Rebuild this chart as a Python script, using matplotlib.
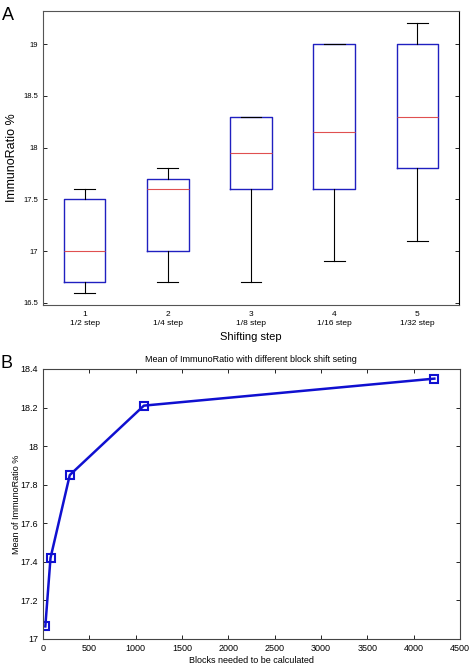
import matplotlib
matplotlib.use("Agg")
import matplotlib.pyplot as plt

# panel A: box statistics
steps = ["1\n1/2 step", "2\n1/4 step", "3\n1/8 step", "4\n1/16 step", "5\n1/32 step"]
whislo = [16.6, 16.7, 16.7, 16.9, 17.1]
q1 = [16.7, 17.0, 17.6, 17.6, 17.8]
med = [17.0, 17.6, 17.95, 18.15, 18.3]
q3 = [17.5, 17.7, 18.3, 19.0, 19.0]
whishi = [17.6, 17.8, 18.3, 19.0, 19.2]

# panel B: mean ImmunoRatio vs blocks
blocks = [25, 81, 289, 1089, 4225]
mean_ratio = [17.065, 17.42, 17.85, 18.21, 18.35]

plt.rcParams['font.family'] = ['Liberation Sans', 'DejaVu Sans']

fig = plt.figure(figsize=(4.71, 6.64), dpi=100)

# ---- A ----
ax1 = fig.add_axes([0.0913, 0.5407, 0.883, 0.4428])
stats = []
for i in range(len(steps)):
    stats.append(dict(whislo=whislo[i], q1=q1[i], med=med[i], q3=q3[i],
                      whishi=whishi[i], fliers=[]))
ax1.bxp(stats, positions=range(1, 6), widths=0.5, showfliers=False,
        boxprops=dict(color="#2020c0", linewidth=1.0),
        medianprops=dict(color="#e05050", linewidth=0.8),
        whiskerprops=dict(color="black", linewidth=0.8),
        capprops=dict(color="black", linewidth=0.8),
        capwidths=0.25)
ax1.set_xlim(0.5, 5.5)
ax1.set_ylim(16.48, 19.32)
ax1.set_yticks([16.5, 17, 17.5, 18, 18.5, 19])
ax1.set_yticklabels(["16.5", "17", "17.5", "18", "18.5", "19"])
ax1.set_xticks(range(1, 6))
ax1.set_xticklabels(steps, fontsize=6, linespacing=1.4)
ax1.tick_params(axis='y', direction='in', right=True, labelsize=5.5, length=3, width=0.6)
ax1.tick_params(axis='x', length=0, pad=4)
ax1.set_ylabel("ImmunoRatio %", fontsize=9, labelpad=4)
ax1.set_xlabel("Shifting step", fontsize=8, labelpad=4)
for s in ax1.spines.values():
    s.set_color("#555555")
    s.set_linewidth(0.8)
ax1.spines['right'].set_color("black")
fig.text(0.005, 0.99, "A", fontsize=13, va="top", ha="left")

# ---- B ----
ax2 = fig.add_axes([0.0913, 0.0377, 0.885, 0.4066])
ax2.plot(blocks, mean_ratio, color="#1010d0", linewidth=1.8, marker="s",
         markersize=6, markerfacecolor="none", markeredgewidth=1.5)
ax2.set_xlim(0, 4500)
ax2.set_ylim(17, 18.4)
ax2.set_xticks(range(0, 4501, 500))
ax2.set_yticks([17, 17.2, 17.4, 17.6, 17.8, 18, 18.2, 18.4])
ax2.set_yticklabels(["17", "17.2", "17.4", "17.6", "17.8", "18", "18.2", "18.4"])
ax2.tick_params(direction='in', top=True, right=True, labelsize=6.5, length=3, width=0.6)
ax2.set_title("Mean of ImmunoRatio with different block shift seting", fontsize=6.5, pad=5)
ax2.set_xlabel("Blocks needed to be calculated", fontsize=6.5, labelpad=2)
ax2.set_ylabel("Mean of ImmunoRatio %", fontsize=6.5, labelpad=0)
for s in ax2.spines.values():
    s.set_color("#444444")
    s.set_linewidth(0.8)
fig.text(0.0, 0.466, "B", fontsize=13, va="top", ha="left")

fig.savefig("out.png", dpi=100)
